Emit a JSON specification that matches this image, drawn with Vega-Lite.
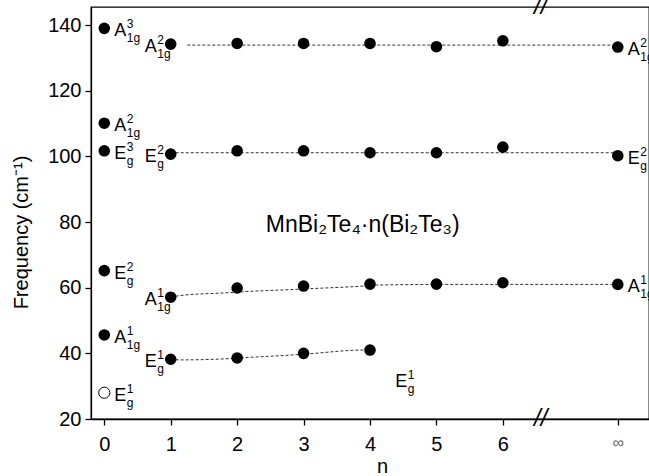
{
  "$schema": "https://vega.github.io/schema/vega-lite/v6.json",
  "width": 558,
  "height": 412,
  "autosize": "none",
  "padding": {"left": 91, "top": 7, "right": 0, "bottom": 57},
  "background": "white",
  "config": {
    "font": "Liberation Sans",
    "view": {"stroke": "black", "strokeWidth": 1.3},
    "axis": {"grid": false, "domainColor": "black", "tickColor": "black", "labelColor": "black", "titleColor": "black", "domainWidth": 1.3, "tickWidth": 1.3, "labelFont": "Liberation Sans", "titleFont": "Liberation Sans"}
  },
  "datasets": {
    "points": [
      {"n": 0, "freq": 139.0, "mode": "A1g3", "status": "filled"},
      {"n": 0, "freq": 110.1, "mode": "A1g2", "status": "filled"},
      {"n": 0, "freq": 101.7, "mode": "Eg3", "status": "filled"},
      {"n": 0, "freq": 65.2, "mode": "Eg2", "status": "filled"},
      {"n": 0, "freq": 45.6, "mode": "A1g1", "status": "filled"},
      {"n": 0, "freq": 28.0, "mode": "Eg1", "status": "open"},
      {"n": 1, "freq": 134.2, "mode": "A1g2", "status": "filled"},
      {"n": 2, "freq": 134.4, "mode": "A1g2", "status": "filled"},
      {"n": 3, "freq": 134.4, "mode": "A1g2", "status": "filled"},
      {"n": 4, "freq": 134.4, "mode": "A1g2", "status": "filled"},
      {"n": 5, "freq": 133.4, "mode": "A1g2", "status": "filled"},
      {"n": 6, "freq": 135.2, "mode": "A1g2", "status": "filled"},
      {"n": 7.73, "freq": 133.3, "mode": "A1g2", "status": "filled"},
      {"n": 1, "freq": 100.7, "mode": "Eg2", "status": "filled"},
      {"n": 2, "freq": 101.7, "mode": "Eg2", "status": "filled"},
      {"n": 3, "freq": 101.7, "mode": "Eg2", "status": "filled"},
      {"n": 4, "freq": 101.1, "mode": "Eg2", "status": "filled"},
      {"n": 5, "freq": 101.1, "mode": "Eg2", "status": "filled"},
      {"n": 6, "freq": 102.8, "mode": "Eg2", "status": "filled"},
      {"n": 7.73, "freq": 100.2, "mode": "Eg2", "status": "filled"},
      {"n": 1, "freq": 57.1, "mode": "A1g1", "status": "filled"},
      {"n": 2, "freq": 59.9, "mode": "A1g1", "status": "filled"},
      {"n": 3, "freq": 60.5, "mode": "A1g1", "status": "filled"},
      {"n": 4, "freq": 61.1, "mode": "A1g1", "status": "filled"},
      {"n": 5, "freq": 61.1, "mode": "A1g1", "status": "filled"},
      {"n": 6, "freq": 61.5, "mode": "A1g1", "status": "filled"},
      {"n": 7.73, "freq": 61.0, "mode": "A1g1", "status": "filled"},
      {"n": 1, "freq": 38.2, "mode": "Eg1", "status": "filled"},
      {"n": 2, "freq": 38.6, "mode": "Eg1", "status": "filled"},
      {"n": 3, "freq": 40.0, "mode": "Eg1", "status": "filled"},
      {"n": 4, "freq": 41.0, "mode": "Eg1", "status": "filled"}
    ],
    "fits": [
      {"n": 1.25, "freq": 133.9, "mode": "A1g2"},
      {"n": 7.73, "freq": 133.9, "mode": "A1g2"},
      {"n": 1, "freq": 101.1, "mode": "Eg2"},
      {"n": 7.73, "freq": 101.1, "mode": "Eg2"},
      {"n": 1, "freq": 57.1, "mode": "A1g1"},
      {"n": 1.14, "freq": 57.6, "mode": "A1g1"},
      {"n": 1.89, "freq": 58.5, "mode": "A1g1"},
      {"n": 2.12, "freq": 58.8, "mode": "A1g1"},
      {"n": 2.9, "freq": 59.5, "mode": "A1g1"},
      {"n": 3.1, "freq": 59.7, "mode": "A1g1"},
      {"n": 3.9, "freq": 60.5, "mode": "A1g1"},
      {"n": 4.1, "freq": 60.8, "mode": "A1g1"},
      {"n": 5.2, "freq": 61.0, "mode": "A1g1"},
      {"n": 7.73, "freq": 61.0, "mode": "A1g1"},
      {"n": 1, "freq": 38.2, "mode": "Eg1"},
      {"n": 1.14, "freq": 38.0, "mode": "Eg1"},
      {"n": 1.89, "freq": 38.4, "mode": "Eg1"},
      {"n": 2.12, "freq": 38.7, "mode": "Eg1"},
      {"n": 2.9, "freq": 39.6, "mode": "Eg1"},
      {"n": 3.1, "freq": 39.9, "mode": "Eg1"},
      {"n": 3.9, "freq": 41.0, "mode": "Eg1"},
      {"n": 4, "freq": 41.0, "mode": "Eg1"}
    ],
    "labels": [
      {"n": 0, "freq": 139.0, "base": "A", "sub": "1g", "sup": "3", "side": "right"},
      {"n": 0, "freq": 110.1, "base": "A", "sub": "1g", "sup": "2", "side": "right"},
      {"n": 0, "freq": 101.7, "base": "E", "sub": "g", "sup": "3", "side": "right"},
      {"n": 0, "freq": 65.2, "base": "E", "sub": "g", "sup": "2", "side": "right"},
      {"n": 0, "freq": 45.6, "base": "A", "sub": "1g", "sup": "1", "side": "right"},
      {"n": 0, "freq": 28.0, "base": "E", "sub": "g", "sup": "1", "side": "right"},
      {"n": 1, "freq": 134.2, "base": "A", "sub": "1g", "sup": "2", "side": "left"},
      {"n": 1, "freq": 100.7, "base": "E", "sub": "g", "sup": "2", "side": "left"},
      {"n": 1, "freq": 57.1, "base": "A", "sub": "1g", "sup": "1", "side": "left"},
      {"n": 1, "freq": 38.2, "base": "E", "sub": "g", "sup": "1", "side": "left"},
      {"n": 7.73, "freq": 133.3, "base": "A", "sub": "1g", "sup": "2", "side": "right"},
      {"n": 7.73, "freq": 100.2, "base": "E", "sub": "g", "sup": "2", "side": "right"},
      {"n": 7.73, "freq": 61.0, "base": "A", "sub": "1g", "sup": "1", "side": "right"},
      {"n": 4.23, "freq": 32.2, "base": "E", "sub": "g", "sup": "1", "side": "right"}
    ],
    "notes": [
      {"n": 3.89, "freq": 77.0, "text": "MnBi₂Te₄·n(Bi₂Te₃)"}
    ],
    "breaks": [
      {"n": 6.57, "freq": 20},
      {"n": 6.57, "freq": 145.5}
    ]
  },
  "encoding": {
    "x": {"field": "n", "type": "quantitative", "scale": {"domain": [-0.2, 8.2], "nice": false, "zero": false}},
    "y": {"field": "freq", "type": "quantitative", "scale": {"domain": [20, 145.5], "nice": false, "zero": false}}
  },
  "layer": [
    {
      "data": {"name": "fits"},
      "mark": {"type": "line", "strokeDash": [3, 2], "strokeWidth": 1, "color": "#333", "interpolate": "monotone"},
      "encoding": {
        "x": {"field": "n", "type": "quantitative", "scale": {"domain": [-0.2, 8.2], "nice": false, "zero": false},
          "axis": {"values": [0, 1, 2, 3, 4, 5, 6, 7.73], "labelExpr": "datum.value > 7 ? '∞' : format(datum.value, 'd')",
            "labelFontSize": {"condition": {"test": "datum.value > 7", "value": 16}, "value": 20},
            "labelColor": {"condition": {"test": "datum.value > 7", "value": "#666"}, "value": "black"},
            "tickSize": 6, "labelPadding": 9, "labelFlush": false, "labelOverlap": false,
            "title": "n", "titleFontSize": 20, "titleFontWeight": "normal", "titleX": 291, "titleY": 53, "titleBaseline": "alphabetic", "titleAlign": "center"}},
        "y": {"field": "freq", "type": "quantitative", "scale": {"domain": [20, 145.5], "nice": false, "zero": false},
          "axis": {"values": [20, 30, 40, 50, 60, 70, 80, 90, 100, 110, 120, 130, 140],
            "labelExpr": "datum.value % 20 === 0 ? datum.label : ''",
            "tickSize": {"condition": {"test": "datum.value % 20 === 0", "value": 6}, "value": 3.5},
            "labelPadding": 4, "labelFontSize": 20, "labelFlush": false, "labelOverlap": false,
            "title": "Frequency (cm⁻¹)", "titleFontSize": 20, "titleFontWeight": "normal", "titleAngle": -90,
            "titleX": -64, "titleY": 225, "titleAlign": "center", "titleBaseline": "alphabetic"}},
        "detail": {"field": "mode"},
        "order": {"field": "n"}
      }
    },
    {
      "data": {"name": "points"},
      "transform": [{"filter": "datum.status === 'filled'"}],
      "mark": {"type": "point", "shape": "circle", "filled": true, "size": 135, "color": "black", "opacity": 1}
    },
    {
      "data": {"name": "points"},
      "transform": [{"filter": "datum.status === 'open'"}],
      "mark": {"type": "point", "shape": "circle", "filled": false, "size": 125, "stroke": "black", "strokeWidth": 1, "fill": "white", "fillOpacity": 1, "opacity": 1}
    },
    {
      "data": {"name": "labels"},
      "transform": [{"filter": "datum.side === 'right'"}],
      "mark": {"type": "text", "align": "left", "baseline": "alphabetic", "dx": 10, "dy": 8, "fontSize": 18, "color": "black"},
      "encoding": {"text": {"field": "base"}}
    },
    {
      "data": {"name": "labels"},
      "transform": [{"filter": "datum.side === 'right'"}],
      "mark": {"type": "text", "align": "left", "baseline": "alphabetic", "dx": 22.5, "dy": 0, "fontSize": 12, "color": "black"},
      "encoding": {"text": {"field": "sup"}}
    },
    {
      "data": {"name": "labels"},
      "transform": [{"filter": "datum.side === 'right'"}],
      "mark": {"type": "text", "align": "left", "baseline": "alphabetic", "dx": 22.5, "dy": 14, "fontSize": 12, "color": "black"},
      "encoding": {"text": {"field": "sub"}}
    },
    {
      "data": {"name": "labels"},
      "transform": [{"filter": "datum.side === 'left'"}],
      "mark": {"type": "text", "align": "right", "baseline": "alphabetic", "dx": -14, "dy": 8, "fontSize": 18, "color": "black"},
      "encoding": {"text": {"field": "base"}}
    },
    {
      "data": {"name": "labels"},
      "transform": [{"filter": "datum.side === 'left'"}],
      "mark": {"type": "text", "align": "left", "baseline": "alphabetic", "dx": -13.5, "dy": 0, "fontSize": 12, "color": "black"},
      "encoding": {"text": {"field": "sup"}}
    },
    {
      "data": {"name": "labels"},
      "transform": [{"filter": "datum.side === 'left'"}],
      "mark": {"type": "text", "align": "left", "baseline": "alphabetic", "dx": -13.5, "dy": 14, "fontSize": 12, "color": "black"},
      "encoding": {"text": {"field": "sub"}}
    },
    {
      "data": {"name": "notes"},
      "mark": {"type": "text", "align": "center", "baseline": "alphabetic", "fontSize": 23, "color": "black"},
      "encoding": {"text": {"field": "text"}}
    },
    {
      "data": {"name": "breaks"},
      "mark": {"type": "text", "align": "center", "baseline": "middle", "fontSize": 24, "fontStyle": "italic", "color": "black", "clip": false},
      "encoding": {"text": {"value": "//"}}
    }
  ]
}
